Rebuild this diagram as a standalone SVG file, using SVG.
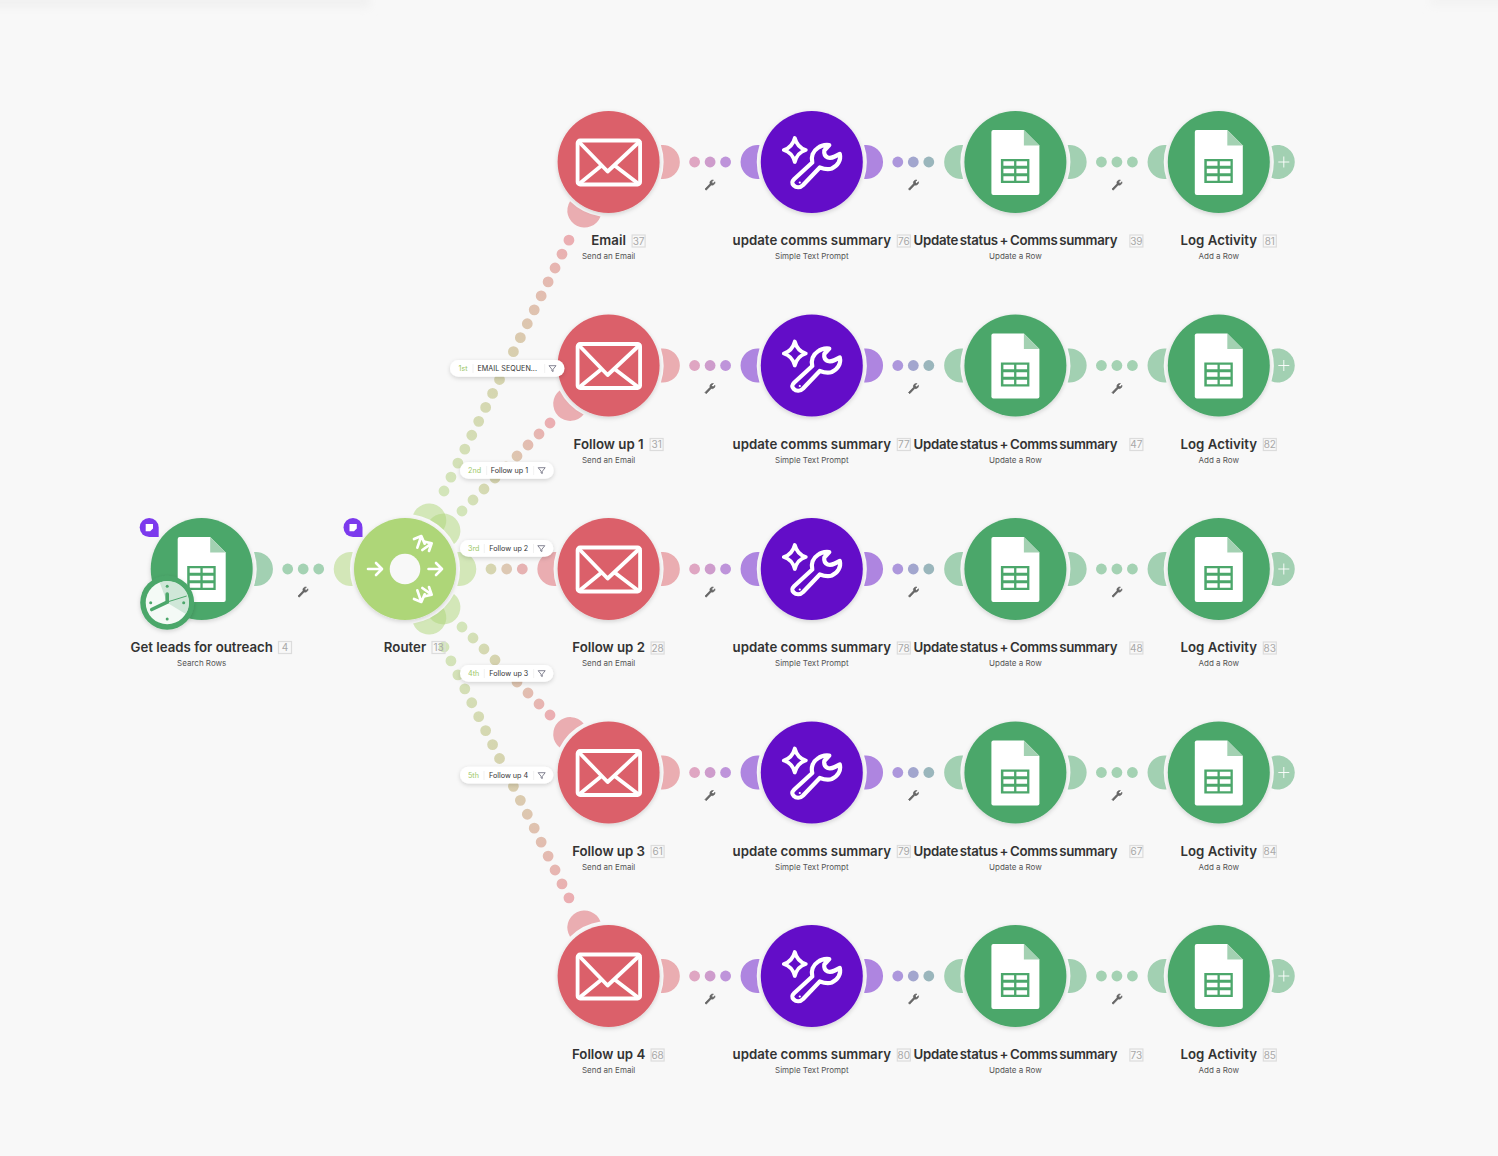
<svg xmlns="http://www.w3.org/2000/svg" xmlns:xlink="http://www.w3.org/1999/xlink" width="1498" height="1156" viewBox="0 0 1498 1156">
<style>
text{font-family:Inter,"Liberation Sans",sans-serif}
.n{font-size:13.25px;font-weight:600;fill:#333;text-anchor:middle}
.u{letter-spacing:-.3px;word-spacing:-1.25px}
.s{font-size:8px;fill:#555;text-anchor:middle}
.bt{font-size:10px;fill:#a8a8a8;text-anchor:middle}
.b{fill:none;stroke:#dcdcdc;stroke-width:1.2}
.lr{fill:#DB616A;opacity:.5}.lp{fill:#6411C8;opacity:.5}.lg{fill:#4CA76B;opacity:.5}.lt{fill:#AED678;opacity:.5}
.r{fill:#DB616A}.p{fill:#6411C8}.g{fill:#4CA76B}.t{fill:#AED678}
.dot{stroke-width:10.8;stroke-linecap:round;fill:none}
.ord{font-size:7.2px;fill:#9cc766}.lab{font-size:7.2px;fill:#333}
.div{stroke:#eee;stroke-width:.8}
.fi{fill:none;stroke:#667;stroke-width:.8;stroke-linejoin:round}
.pill{fill:#fff;filter:url(#sh)}
.w{fill:none;stroke:#fff;stroke-linecap:round;stroke-linejoin:round}
.ra{fill:none;stroke:#fff;stroke-width:8;stroke-linecap:round;stroke-linejoin:round}
</style>
<defs>
<filter id="sh" x="-30%" y="-30%" width="160%" height="170%"><feDropShadow dx="0" dy="1.5" stdDeviation="2" flood-color="#000" flood-opacity=".16"/></filter>
<filter id="bl" x="-10%" y="-100%" width="120%" height="300%"><feGaussianBlur stdDeviation="4"/></filter>
<linearGradient id="d1" gradientUnits="userSpaceOnUse" x1="444" y1="491" x2="569" y2="240"><stop offset="0" stop-color="#D3E5BA"/><stop offset=".5" stop-color="#D6D2AE"/><stop offset="1" stop-color="#EBAEB2"/></linearGradient>
<linearGradient id="d2" gradientUnits="userSpaceOnUse" x1="462" y1="511" x2="550" y2="423"><stop offset="0" stop-color="#D3E5BA"/><stop offset=".4" stop-color="#D6D2AE"/><stop offset="1" stop-color="#EBAEB2"/></linearGradient>
<linearGradient id="d4" gradientUnits="userSpaceOnUse" x1="462" y1="627" x2="550" y2="715"><stop offset="0" stop-color="#D3E5BA"/><stop offset=".4" stop-color="#D6D2AE"/><stop offset="1" stop-color="#EBAEB2"/></linearGradient>
<linearGradient id="d5" gradientUnits="userSpaceOnUse" x1="444" y1="647" x2="569" y2="898"><stop offset="0" stop-color="#D3E5BA"/><stop offset=".5" stop-color="#D6D2AE"/><stop offset="1" stop-color="#EBAEB2"/></linearGradient>
<path id="lobe" d="M52.3,-17A17.1,17.1 0 1 1 52.3,17A55,55 0 0 0 52.3,-17Z"/>
<g id="add"><path class="lg" d="M52.7,-15.8A17,17 0 1 1 52.7,15.8A55,55 0 0 0 52.7,-15.8Z"/><path stroke="#fff" stroke-width=".9" d="M65 -5.500V5.500M59.500 0H70.500"/></g>
<path id="wr" fill="#666" stroke="#666" stroke-width=".7" stroke-linejoin="round" d="M-5 4L0-1.2C-.6-3.4 1-5.2 3.4-5L1.6-3L3-1.4L5-3.2C5.2-.8 3.2.6 1.2 0L-3.8 5.2Z"/>
<g id="dots-a"><circle cx="86" r="5.4" fill="#DFA6C2"/><circle cx="101.5" r="5.4" fill="#CE9CCC"/><circle cx="117" r="5.4" fill="#BE94DA"/></g>
<g id="dots-b"><circle cx="86" r="5.4" fill="#AD97DC"/><circle cx="101.5" r="5.4" fill="#A2A6CE"/><circle cx="117" r="5.4" fill="#9AB6BC"/></g>
<g id="dots-c"><circle cx="86" r="5.4" fill="#A4D2B3"/><circle cx="101.5" r="5.4" fill="#A4D2B3"/><circle cx="117" r="5.4" fill="#A4D2B3"/></g>
<g id="mail"><rect x="-31" y="-21.5" width="62.500" height="44" rx="2.500" class="w" stroke-width="3.8"/><path class="w" stroke-width="3.8" d="M-30-20.500L-1 9.500L31-20.500M-29 21.500L-7 3.500M29.500 21.500L6 3.500"/></g>
<g id="ai"><path class="w" stroke-width="3.8" d="M-17-24Q-14.500-14.500-6-12Q-14.500-9.500-17 0Q-19.500-9.500-28-12Q-19.500-14.500-17-24Z"/><path class="w" stroke-width="4.200" d="M-17.500 17L.5 .5C-1-5 1-11 6-14C9-16.500 13-17.500 17.500-17L12.500-11.500C12-8 13.500-5.500 16-4.500C19-3.500 21-4.500 23-5.500L28-8C29.500-2 26 4 20 6.500C16 8 12 7 8 5.500L-8.700 23C-11.500 25.800-15.500 26-18 23.500C-20.500 21-20 19.500-17.500 17Z"/><circle cx="-12" cy="20.500" r="1.100" fill="#fff"/></g>
<g id="sheet"><path fill="#fff" d="M-22-32H8.500L24-16.500V31A2 2 0 0 1 22 33H-22A2 2 0 0 1-24 31V-30A2 2 0 0 1-22-32Z"/><path fill="#A3D1B2" d="M8.500-32L24-16.500H8.500Z"/><rect x="-14.500" y="-3" width="28.500" height="24" fill="#4CA76B"/><path fill="#fff" d="M-12-.8H-1.300V3.800H-12ZM1 -.8H11.700V3.800H1ZM-12 6.700H-1.300V11.300H-12ZM1 6.700H11.700V11.300H1ZM-12 14.200H-1.300V18.800H-12ZM1 14.200H11.700V18.800H1Z"/></g>
<path id="filt" class="fi" d="M-3.500-2.800H3.500L.6 .8V3L-.6 2.500V.8Z"/>
<g id="note"><path fill="#7C3AED" d="M0-9.500A9.500 9.500 0 1 0 0 9.500H9.500V0A9.500 9.500 0 0 0 0-9.500Z"/><path fill="#fff" d="M-3.500-3.500H3.800V1L1 3.800H-3.500Z"/></g>
<g id="ra"><path class="ra" d="M162 42L184 33L194 56M184 33L172 68M195 50L215 55L207 78M215 55L187 75"/></g>
</defs>

<rect width="1498" height="1156" fill="#F8F8F8"/>
<rect x="-20" y="-6" width="390" height="14" fill="#F1F1F1" filter="url(#bl)"/>
<rect x="1430" y="-6" width="90" height="12" fill="#F3F3F3" filter="url(#bl)"/>

<g id="connectors">
<use xlink:href="#dots-c" transform="translate(201.700,569)"/>
<line class="dot" stroke="url(#d1)" x1="444" y1="491" x2="569.100" y2="239.800" stroke-dasharray="0 15.57"/>
<line class="dot" stroke="url(#d2)" x1="462" y1="511" x2="550.100" y2="422.900" stroke-dasharray="0 15.56"/>
<g><circle cx="491" cy="569" r="5.400" fill="#D6D5B0"/><circle cx="506.700" cy="569" r="5.400" fill="#DDC8B3"/><circle cx="522.300" cy="569" r="5.400" fill="#E6B2B2"/></g>
<line class="dot" stroke="url(#d4)" x1="462" y1="627" x2="550.100" y2="715.100" stroke-dasharray="0 15.56"/>
<line class="dot" stroke="url(#d5)" x1="444" y1="647" x2="569.100" y2="898.200" stroke-dasharray="0 15.57"/>
<use xlink:href="#wr" x="303" y="592"/>
<g id="row1-links" transform="translate(0,162)"><use xlink:href="#dots-a" x="608.600"/><use xlink:href="#dots-b" x="811.800"/><use xlink:href="#dots-c" x="1015.400"/><use xlink:href="#wr" x="710" y="23"/><use xlink:href="#wr" x="913.500" y="23"/><use xlink:href="#wr" x="1117" y="23"/></g>
<g id="row2-links" transform="translate(0,365.500)"><use xlink:href="#dots-a" x="608.600"/><use xlink:href="#dots-b" x="811.800"/><use xlink:href="#dots-c" x="1015.400"/><use xlink:href="#wr" x="710" y="23"/><use xlink:href="#wr" x="913.500" y="23"/><use xlink:href="#wr" x="1117" y="23"/></g>
<g id="row3-links" transform="translate(0,569)"><use xlink:href="#dots-a" x="608.600"/><use xlink:href="#dots-b" x="811.800"/><use xlink:href="#dots-c" x="1015.400"/><use xlink:href="#wr" x="710" y="23"/><use xlink:href="#wr" x="913.500" y="23"/><use xlink:href="#wr" x="1117" y="23"/></g>
<g id="row4-links" transform="translate(0,772.500)"><use xlink:href="#dots-a" x="608.600"/><use xlink:href="#dots-b" x="811.800"/><use xlink:href="#dots-c" x="1015.400"/><use xlink:href="#wr" x="710" y="23"/><use xlink:href="#wr" x="913.500" y="23"/><use xlink:href="#wr" x="1117" y="23"/></g>
<g id="row5-links" transform="translate(0,976)"><use xlink:href="#dots-a" x="608.600"/><use xlink:href="#dots-b" x="811.800"/><use xlink:href="#dots-c" x="1015.400"/><use xlink:href="#wr" x="710" y="23"/><use xlink:href="#wr" x="913.500" y="23"/><use xlink:href="#wr" x="1117" y="23"/></g>
</g>

<g id="source" transform="translate(201.700,569)">
<use xlink:href="#lobe" class="lg"/><circle r="51" class="g" filter="url(#sh)"/><use xlink:href="#sheet"/>
<circle cx="-34.500" cy="33.700" r="27" fill="#4CA76B" filter="url(#sh)"/><circle cx="-34.500" cy="33.700" r="21.500" fill="#F4FAF6"/>
<path fill="#CFE7D8" d="M-34.500 33.700L-42 13.500A21.500 21.500 0 0 1-16 45Z"/>
<g fill="#4CA76B"><circle cx="-34.500" cy="17.300" r="1.500"/><circle cx="-18" cy="33.700" r="1.500"/><circle cx="-34.500" cy="50" r="1.500"/><circle cx="-51" cy="33.700" r="1.500"/></g>
<path stroke="#4CA76B" stroke-linecap="round" fill="none" stroke-width="3.600" d="M-34.500 25V33L-50 40.500"/><path stroke="#4CA76B" stroke-width="1" d="M-34.500 33L-15 27"/>
<use xlink:href="#note" x="-52.500" y="-41.500"/>
<text class="n" y="83">Get leads for outreach</text><rect class="b" x="76.800" y="72.500" width="13" height="12"/><text class="bt" x="83.300" y="82">4</text><text class="s" y="97">Search Rows</text>
</g>

<g id="router" transform="translate(405,569)">
<use xlink:href="#lobe" class="lt" transform="rotate(180)"/><use xlink:href="#lobe" class="lt" transform="rotate(-63.500)"/><use xlink:href="#lobe" class="lt" transform="rotate(-45)"/><use xlink:href="#lobe" class="lt"/><use xlink:href="#lobe" class="lt" transform="rotate(45)"/><use xlink:href="#lobe" class="lt" transform="rotate(63.500)"/>
<circle r="51" class="t" filter="url(#sh)"/><circle r="15.300" fill="#F8F8F8"/>
<path class="w" stroke-width="2.600" d="M-37 0H-23.500M-29-6L-23 0L-29 6M23.500 0H37M31-6L37 0L31 6"/>
<g transform="scale(.3333) translate(-135,-132)"><use xlink:href="#ra"/></g>
<g transform="scale(.3333,-.3333) translate(-135,-132)"><use xlink:href="#ra"/></g>
<use xlink:href="#note" x="-52" y="-41.500"/>
<text class="n" y="83">Router</text><rect class="b" x="27" y="72.500" width="13" height="12"/><text class="bt" x="33.500" y="82">13</text>
</g>

<g id="email-1" transform="translate(608.600,162)"><use xlink:href="#lobe" class="lr"/><use xlink:href="#lobe" class="lr" transform="rotate(116.500)"/><circle r="51" class="r" filter="url(#sh)"/><use xlink:href="#mail"/><text class="n" y="83">Email</text><rect class="b" x="23.500" y="73" width="13" height="12"/><text class="bt" x="30" y="82.500">37</text><text class="s" y="97">Send an Email</text></g>
<g id="ai-1" transform="translate(811.800,162)"><use xlink:href="#lobe" class="lp"/><use xlink:href="#lobe" class="lp" transform="rotate(180)"/><circle r="51" class="p" filter="url(#sh)"/><use xlink:href="#ai"/><text class="n" y="83">update comms summary</text><rect class="b" x="85.500" y="73" width="13" height="12"/><text class="bt" x="92" y="82.500">76</text><text class="s" y="97">Simple Text Prompt</text></g>
<g id="update-1" transform="translate(1015.400,162)"><use xlink:href="#lobe" class="lg"/><use xlink:href="#lobe" class="lg" transform="rotate(180)"/><circle r="51" class="g" filter="url(#sh)"/><use xlink:href="#sheet"/><text class="n u" y="83">Update status + Comms summary</text><rect class="b" x="114.500" y="73" width="13" height="12"/><text class="bt" x="121" y="82.500">39</text><text class="s" y="97">Update a Row</text></g>
<g id="log-1" transform="translate(1218.800,162)"><use xlink:href="#add"/><use xlink:href="#lobe" class="lg" transform="rotate(180)"/><circle r="51" class="g" filter="url(#sh)"/><use xlink:href="#sheet"/><text class="n" y="83">Log Activity</text><rect class="b" x="44.500" y="73" width="13" height="12"/><text class="bt" x="51" y="82.500">81</text><text class="s" y="97">Add a Row</text></g>

<g id="email-2" transform="translate(608.600,365.500)"><use xlink:href="#lobe" class="lr"/><use xlink:href="#lobe" class="lr" transform="rotate(135)"/><circle r="51" class="r" filter="url(#sh)"/><use xlink:href="#mail"/><text class="n" y="83">Follow up 1</text><rect class="b" x="41.500" y="73" width="13" height="12"/><text class="bt" x="48" y="82.500">31</text><text class="s" y="97">Send an Email</text></g>
<g id="ai-2" transform="translate(811.800,365.500)"><use xlink:href="#lobe" class="lp"/><use xlink:href="#lobe" class="lp" transform="rotate(180)"/><circle r="51" class="p" filter="url(#sh)"/><use xlink:href="#ai"/><text class="n" y="83">update comms summary</text><rect class="b" x="85.500" y="73" width="13" height="12"/><text class="bt" x="92" y="82.500">77</text><text class="s" y="97">Simple Text Prompt</text></g>
<g id="update-2" transform="translate(1015.400,365.500)"><use xlink:href="#lobe" class="lg"/><use xlink:href="#lobe" class="lg" transform="rotate(180)"/><circle r="51" class="g" filter="url(#sh)"/><use xlink:href="#sheet"/><text class="n u" y="83">Update status + Comms summary</text><rect class="b" x="114.500" y="73" width="13" height="12"/><text class="bt" x="121" y="82.500">47</text><text class="s" y="97">Update a Row</text></g>
<g id="log-2" transform="translate(1218.800,365.500)"><use xlink:href="#add"/><use xlink:href="#lobe" class="lg" transform="rotate(180)"/><circle r="51" class="g" filter="url(#sh)"/><use xlink:href="#sheet"/><text class="n" y="83">Log Activity</text><rect class="b" x="44.500" y="73" width="13" height="12"/><text class="bt" x="51" y="82.500">82</text><text class="s" y="97">Add a Row</text></g>

<g id="email-3" transform="translate(608.600,569)"><use xlink:href="#lobe" class="lr"/><use xlink:href="#lobe" class="lr" transform="rotate(180)"/><circle r="51" class="r" filter="url(#sh)"/><use xlink:href="#mail"/><text class="n" y="83">Follow up 2</text><rect class="b" x="42.500" y="73" width="13" height="12"/><text class="bt" x="49" y="82.500">28</text><text class="s" y="97">Send an Email</text></g>
<g id="ai-3" transform="translate(811.800,569)"><use xlink:href="#lobe" class="lp"/><use xlink:href="#lobe" class="lp" transform="rotate(180)"/><circle r="51" class="p" filter="url(#sh)"/><use xlink:href="#ai"/><text class="n" y="83">update comms summary</text><rect class="b" x="85.500" y="73" width="13" height="12"/><text class="bt" x="92" y="82.500">78</text><text class="s" y="97">Simple Text Prompt</text></g>
<g id="update-3" transform="translate(1015.400,569)"><use xlink:href="#lobe" class="lg"/><use xlink:href="#lobe" class="lg" transform="rotate(180)"/><circle r="51" class="g" filter="url(#sh)"/><use xlink:href="#sheet"/><text class="n u" y="83">Update status + Comms summary</text><rect class="b" x="114.500" y="73" width="13" height="12"/><text class="bt" x="121" y="82.500">48</text><text class="s" y="97">Update a Row</text></g>
<g id="log-3" transform="translate(1218.800,569)"><use xlink:href="#add"/><use xlink:href="#lobe" class="lg" transform="rotate(180)"/><circle r="51" class="g" filter="url(#sh)"/><use xlink:href="#sheet"/><text class="n" y="83">Log Activity</text><rect class="b" x="44.500" y="73" width="13" height="12"/><text class="bt" x="51" y="82.500">83</text><text class="s" y="97">Add a Row</text></g>

<g id="email-4" transform="translate(608.600,772.500)"><use xlink:href="#lobe" class="lr"/><use xlink:href="#lobe" class="lr" transform="rotate(-135)"/><circle r="51" class="r" filter="url(#sh)"/><use xlink:href="#mail"/><text class="n" y="83">Follow up 3</text><rect class="b" x="42.500" y="73" width="13" height="12"/><text class="bt" x="49" y="82.500">61</text><text class="s" y="97">Send an Email</text></g>
<g id="ai-4" transform="translate(811.800,772.500)"><use xlink:href="#lobe" class="lp"/><use xlink:href="#lobe" class="lp" transform="rotate(180)"/><circle r="51" class="p" filter="url(#sh)"/><use xlink:href="#ai"/><text class="n" y="83">update comms summary</text><rect class="b" x="85.500" y="73" width="13" height="12"/><text class="bt" x="92" y="82.500">79</text><text class="s" y="97">Simple Text Prompt</text></g>
<g id="update-4" transform="translate(1015.400,772.500)"><use xlink:href="#lobe" class="lg"/><use xlink:href="#lobe" class="lg" transform="rotate(180)"/><circle r="51" class="g" filter="url(#sh)"/><use xlink:href="#sheet"/><text class="n u" y="83">Update status + Comms summary</text><rect class="b" x="114.500" y="73" width="13" height="12"/><text class="bt" x="121" y="82.500">67</text><text class="s" y="97">Update a Row</text></g>
<g id="log-4" transform="translate(1218.800,772.500)"><use xlink:href="#add"/><use xlink:href="#lobe" class="lg" transform="rotate(180)"/><circle r="51" class="g" filter="url(#sh)"/><use xlink:href="#sheet"/><text class="n" y="83">Log Activity</text><rect class="b" x="44.500" y="73" width="13" height="12"/><text class="bt" x="51" y="82.500">84</text><text class="s" y="97">Add a Row</text></g>

<g id="email-5" transform="translate(608.600,976)"><use xlink:href="#lobe" class="lr"/><use xlink:href="#lobe" class="lr" transform="rotate(-116.500)"/><circle r="51" class="r" filter="url(#sh)"/><use xlink:href="#mail"/><text class="n" y="83">Follow up 4</text><rect class="b" x="42.500" y="73" width="13" height="12"/><text class="bt" x="49" y="82.500">68</text><text class="s" y="97">Send an Email</text></g>
<g id="ai-5" transform="translate(811.800,976)"><use xlink:href="#lobe" class="lp"/><use xlink:href="#lobe" class="lp" transform="rotate(180)"/><circle r="51" class="p" filter="url(#sh)"/><use xlink:href="#ai"/><text class="n" y="83">update comms summary</text><rect class="b" x="85.500" y="73" width="13" height="12"/><text class="bt" x="92" y="82.500">80</text><text class="s" y="97">Simple Text Prompt</text></g>
<g id="update-5" transform="translate(1015.400,976)"><use xlink:href="#lobe" class="lg"/><use xlink:href="#lobe" class="lg" transform="rotate(180)"/><circle r="51" class="g" filter="url(#sh)"/><use xlink:href="#sheet"/><text class="n u" y="83">Update status + Comms summary</text><rect class="b" x="114.500" y="73" width="13" height="12"/><text class="bt" x="121" y="82.500">73</text><text class="s" y="97">Update a Row</text></g>
<g id="log-5" transform="translate(1218.800,976)"><use xlink:href="#add"/><use xlink:href="#lobe" class="lg" transform="rotate(180)"/><circle r="51" class="g" filter="url(#sh)"/><use xlink:href="#sheet"/><text class="n" y="83">Log Activity</text><rect class="b" x="44.500" y="73" width="13" height="12"/><text class="bt" x="51" y="82.500">85</text><text class="s" y="97">Add a Row</text></g>

<g id="filters">
<g id="filter-1"><rect class="pill" x="450" y="360" width="114.500" height="16.700" rx="8.300"/><text class="ord" x="458.500" y="371">1st</text><line class="div" x1="473" x2="473" y1="364" y2="373"/><text class="lab" x="477.500" y="371">EMAIL SEQUEN...</text><line class="div" x1="544.700" x2="544.700" y1="364" y2="373"/><use xlink:href="#filt" x="552.500" y="368.500"/></g>
<g id="filter-2"><rect class="pill" x="460" y="462" width="93.700" height="16.700" rx="8.300"/><text class="ord" x="468" y="473">2nd</text><line class="div" x1="486.700" x2="486.700" y1="466" y2="475"/><text class="lab" x="490.700" y="473">Follow up 1</text><line class="div" x1="533.700" x2="533.700" y1="466" y2="475"/><use xlink:href="#filt" x="541.700" y="470.500"/></g>
<g id="filter-3"><rect class="pill" x="460" y="540" width="93.300" height="16.700" rx="8.300"/><text class="ord" x="468" y="551">3rd</text><line class="div" x1="484.300" x2="484.300" y1="544" y2="553"/><text class="lab" x="489.300" y="551">Follow up 2</text><line class="div" x1="533.500" x2="533.500" y1="544" y2="553"/><use xlink:href="#filt" x="541.300" y="548.500"/></g>
<g id="filter-4"><rect class="pill" x="460" y="665" width="93.300" height="16.700" rx="8.300"/><text class="ord" x="468" y="676">4th</text><line class="div" x1="484.300" x2="484.300" y1="669" y2="678"/><text class="lab" x="489.300" y="676">Follow up 3</text><line class="div" x1="533.700" x2="533.700" y1="669" y2="678"/><use xlink:href="#filt" x="541.700" y="673.500"/></g>
<g id="filter-5"><rect class="pill" x="460" y="766.700" width="93.300" height="16.700" rx="8.300"/><text class="ord" x="468" y="778">5th</text><line class="div" x1="484" x2="484" y1="771" y2="780"/><text class="lab" x="489" y="778">Follow up 4</text><line class="div" x1="533.700" x2="533.700" y1="771" y2="780"/><use xlink:href="#filt" x="541.700" y="775.500"/></g>
</g>
</svg>
